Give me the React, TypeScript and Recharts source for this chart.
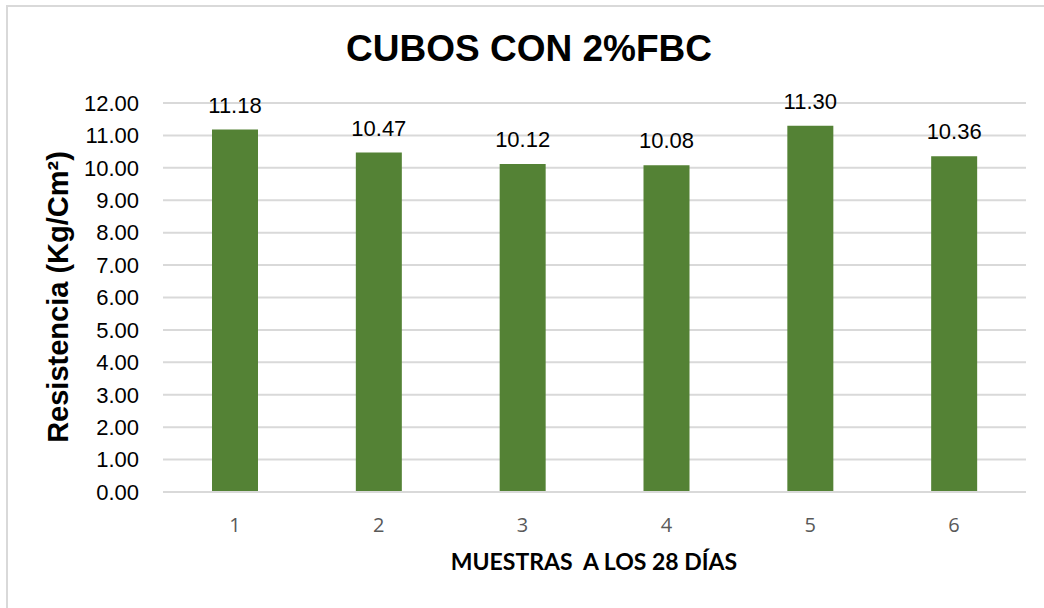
import { Bar, BarChart, CartesianGrid, LabelList, XAxis, YAxis } from "recharts";

const muestras = ["1", "2", "3", "4", "5", "6"];
const resistencia = [11.18, 10.47, 10.12, 10.08, 11.3, 10.36];
const yTicks = [0, 1, 2, 3, 4, 5, 6, 7, 8, 9, 10, 11, 12];

const data = muestras.map((m, i) => ({ muestra: m, valor: resistencia[i] }));

const ARIAL = "'Liberation Sans', Arial, sans-serif";

export default function App() {
  return (
    <div
      style={{
        position: "absolute",
        left: 0,
        top: 0,
        width: 1044,
        height: 608,
        overflow: "hidden",
        background: "#fff",
      }}
    >
      <div
        style={{
          position: "absolute",
          left: 6,
          top: 5,
          width: 1100,
          height: 700,
          border: "2px solid #d9d9d9",
        }}
      />
      <BarChart
        width={1044}
        height={608}
        data={data}
        margin={{ top: 103, right: 18, bottom: 86, left: 83 }}
        style={{ position: "absolute", left: 0, top: 0 }}
      >
        <CartesianGrid vertical={false} stroke="#d9d9d9" strokeWidth={2} />
        <XAxis
          dataKey="muestra"
          height={30}
          tickLine={false}
          axisLine={{ stroke: "#d9d9d9", strokeWidth: 2 }}
          tickMargin={20}
          tick={{ fill: "#595959", fontSize: 20, fontFamily: "'Open Sans', sans-serif" }}
        />
        <YAxis
          width={80}
          domain={[0, 12]}
          ticks={yTicks}
          interval={0}
          tickLine={false}
          axisLine={false}
          tickMargin={18}
          tickFormatter={(v: number) => v.toFixed(2)}
          tick={{ fill: "#000", fontSize: 22, fontFamily: ARIAL }}
        />
        <Bar dataKey="valor" fill="#548235" barSize={46} isAnimationActive={false}>
          <LabelList
            dataKey="valor"
            position="top"
            offset={17}
            formatter={(v: number) => v.toFixed(2)}
            style={{ fill: "#000", fontSize: 22, fontFamily: ARIAL }}
          />
        </Bar>
        <text
          x={529}
          y={61}
          textAnchor="middle"
          style={{ fontFamily: ARIAL, fontSize: 37, fontWeight: "bold", fill: "#000" }}
        >
          CUBOS CON 2%FBC
        </text>
        <text
          x={594}
          y={570}
          textAnchor="middle"
          style={{
            fontFamily: "Lato, sans-serif",
            fontSize: 23,
            fontWeight: "bold",
            fill: "#000",
            whiteSpace: "pre",
          }}
        >
          {"MUESTRAS  A LOS 28 DÍAS"}
        </text>
        <text
          x={0}
          y={0}
          transform="translate(68 297) rotate(-90)"
          textAnchor="middle"
          style={{ fontFamily: ARIAL, fontSize: 29, fontWeight: "bold", fill: "#000" }}
        >
          Resistencia (Kg/Cm²)
        </text>
      </BarChart>
    </div>
  );
}
